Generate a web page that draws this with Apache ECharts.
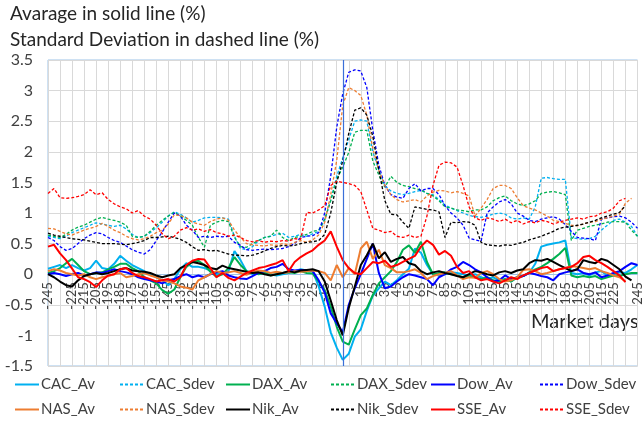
<!DOCTYPE html>
<html>
<head>
<meta charset="utf-8">
<script src="https://cdn.jsdelivr.net/npm/echarts@6/dist/echarts.min.js"></script>
<style>
  html, body { margin: 0; padding: 0; background: #fff; }
  #chart { width: 644px; height: 423px; }
</style>
</head>
<body>
<div id="chart"></div>
<script>
// Market days around the event (every 5th day)
const days = [
  -245,-240,-235,-230,-225,-220,-215,-210,-205,-200,
  -195,-190,-185,-180,-175,-170,-165,-160,-155,-150,
  -145,-140,-135,-130,-125,-120,-115,-110,-105,-100,
  -95,-90,-85,-80,-75,-70,-65,-60,-55,-50,
  -45,-40,-35,-30,-25,-20,-15,-10,-5,0,
  5,10,15,20,25,30,35,40,45,50,
  55,60,65,70,75,80,85,90,95,100,
  105,110,115,120,125,130,135,140,145,150,
  155,160,165,170,175,180,185,190,195,200,
  205,210,215,220,225,230,235,240,245
];

// Average (%)
const cacAv = [
  0.09,0.12,0.15,0.10,0.15,0.10,0.06,0.10,0.22,0.10,
  0.08,0.17,0.30,0.22,0.15,0.10,0.05,0.00,-0.05,-0.10,
  -0.18,-0.08,0.08,0.18,0.12,0.12,0.10,0.06,0.00,0.02,
  0.05,0.38,0.23,0.05,0.00,0.02,0.03,0.00,-0.02,0.00,
  0.02,0.05,0.08,0.06,0.05,-0.20,-0.53,-0.95,-1.20,-1.40,
  -1.30,-1.02,-0.90,-0.60,-0.35,-0.23,-0.12,-0.18,-0.10,0.00,
  0.09,0.42,0.35,0.15,0.00,-0.02,0.00,0.03,0.02,0.00,
  -0.02,0.00,-0.05,-0.08,-0.05,-0.10,-0.08,-0.12,-0.05,-0.03,
  0.02,0.17,0.45,0.48,0.50,0.52,0.55,0.02,0.00,0.02,
  -0.02,0.03,0.05,-0.02,0.00,0.03,0.02,0.08,0.15
];
const daxAv = [
  0.02,0.05,0.10,0.18,0.25,0.15,0.05,0.00,0.02,0.03,
  0.08,0.12,0.17,0.17,0.10,0.05,-0.05,-0.10,-0.15,-0.26,
  -0.32,-0.25,-0.05,0.12,0.20,0.22,0.15,0.04,-0.04,0.00,
  0.10,0.28,0.15,0.05,0.03,0.00,0.02,-0.02,0.00,0.02,
  0.03,0.02,0.05,0.02,0.01,-0.12,-0.26,-0.53,-0.86,-1.10,
  -1.15,-0.90,-0.67,-0.56,-0.34,-0.15,-0.05,0.05,0.20,0.40,
  0.47,0.35,0.53,0.20,0.00,0.02,0.03,0.00,-0.02,-0.05,
  -0.03,-0.05,-0.08,-0.05,-0.10,-0.12,-0.08,-0.12,-0.05,-0.03,
  0.03,0.08,0.12,0.18,0.25,0.33,0.43,-0.02,-0.05,-0.03,
  -0.05,-0.03,-0.08,-0.05,-0.02,-0.03,0.00,0.02,0.02
];
const dowAv = [
  0.00,0.02,0.00,-0.03,0.00,0.02,-0.02,0.00,0.03,0.02,
  0.05,0.08,0.05,0.03,0.00,-0.05,-0.08,-0.10,-0.12,-0.15,
  -0.10,-0.08,-0.03,0.00,-0.05,-0.02,-0.05,0.00,0.03,0.05,
  -0.02,-0.05,-0.07,-0.08,-0.03,0.02,0.05,0.10,0.12,0.17,
  0.08,0.06,0.07,0.07,0.05,-0.10,-0.30,-0.64,-0.80,-0.95,
  -0.50,-0.23,0.00,0.25,0.50,0.02,-0.23,-0.20,-0.12,-0.05,
  0.00,-0.02,-0.05,-0.08,-0.18,-0.05,0.00,0.08,0.12,0.20,
  0.15,0.08,0.03,-0.05,-0.12,-0.10,-0.02,-0.08,-0.05,-0.03,
  0.02,0.00,-0.03,-0.05,-0.10,0.00,0.03,0.05,0.08,0.02,
  0.00,0.03,-0.05,-0.02,0.02,0.05,0.12,0.18,0.15
];
const nasAv = [
  0.05,0.08,0.06,0.02,0.00,-0.02,0.00,-0.05,-0.08,-0.05,
  -0.03,0.00,0.02,-0.05,-0.03,0.00,0.02,-0.02,-0.05,-0.10,
  -0.12,-0.15,-0.20,-0.22,-0.25,-0.10,-0.05,0.00,0.05,0.02,
  0.03,0.05,0.02,-0.01,0.03,0.06,0.05,0.02,0.04,0.02,
  0.03,0.05,0.04,0.05,0.06,0.05,0.02,-0.10,0.15,-0.05,
  0.10,0.00,0.42,0.53,0.25,0.40,0.15,0.10,0.03,0.03,
  0.05,0.08,0.02,-0.08,-0.03,0.00,0.02,0.05,-0.02,-0.08,
  -0.05,-0.06,0.02,0.05,0.00,-0.08,-0.12,-0.10,-0.05,0.07,
  0.08,0.05,0.00,0.02,0.05,0.08,0.10,0.13,0.12,0.10,
  0.08,0.10,0.05,0.02,-0.02,-0.05,-0.12,null,null
];
const nikAv = [
  0.00,-0.05,-0.12,-0.18,-0.20,-0.10,-0.03,0.00,0.02,0.00,
  0.02,0.05,0.08,0.10,0.06,0.05,0.04,0.02,-0.02,-0.05,
  -0.02,0.00,0.10,0.15,0.20,0.18,0.15,0.10,0.08,0.14,
  0.10,0.08,0.06,0.04,0.02,0.03,0.00,-0.02,0.00,0.02,
  0.05,0.03,0.06,0.07,0.08,0.05,-0.12,-0.43,-0.75,-1.00,
  -0.55,-0.20,0.15,0.31,0.50,0.26,0.36,0.20,0.25,0.28,
  0.18,0.15,0.05,0.00,0.03,0.05,0.02,0.00,-0.03,-0.05,
  0.00,0.05,0.03,0.00,-0.02,0.03,0.05,0.02,0.06,0.08,
  0.18,0.23,0.22,0.25,0.20,0.15,0.10,0.05,0.08,0.23,
  0.20,0.18,0.25,0.22,0.15,0.08,-0.04,-0.10,null
];
const sseAv = [
  0.45,0.48,0.34,0.23,0.09,-0.05,-0.08,-0.13,-0.21,-0.10,
  -0.02,0.00,0.08,0.10,0.02,-0.03,-0.05,-0.08,-0.12,-0.10,
  -0.08,-0.12,-0.05,0.15,0.22,0.25,0.24,0.10,-0.05,0.02,
  -0.06,-0.10,-0.04,0.02,0.06,0.10,0.12,0.15,0.18,0.23,
  0.05,0.20,0.28,0.34,0.39,0.48,0.55,0.70,0.45,0.23,
  0.10,0.02,0.00,0.10,0.20,0.18,0.22,0.12,0.15,0.20,
  0.25,0.30,0.45,0.55,0.48,0.32,0.38,0.30,0.12,0.02,
  0.05,-0.05,-0.10,-0.08,-0.12,-0.15,-0.10,-0.05,-0.08,-0.02,
  0.02,0.06,0.10,0.12,0.05,0.08,0.10,0.12,0.18,0.28,
  0.30,0.23,0.18,0.12,0.05,-0.02,-0.13,null,null
];

// Standard deviation (%)
const cacSdev = [
  0.62,0.60,0.58,0.62,0.68,0.72,0.76,0.80,0.84,0.82,
  0.80,0.78,0.80,0.74,0.65,0.60,0.62,0.68,0.76,0.85,
  0.95,1.02,0.98,0.92,0.85,0.88,0.92,0.93,0.93,0.92,
  0.90,0.62,0.42,0.40,0.45,0.55,0.60,0.62,0.65,0.67,
  0.60,0.62,0.65,0.62,0.66,0.70,0.88,1.21,1.60,1.90,
  2.20,2.50,2.52,2.50,2.00,1.70,1.45,1.36,1.32,1.30,
  1.32,1.35,1.37,1.32,1.30,1.22,1.13,1.08,1.04,1.00,
  0.96,0.94,0.93,0.95,0.98,1.00,0.98,0.92,0.90,0.92,
  0.90,1.10,1.57,1.58,1.56,1.55,1.55,0.60,0.58,0.57,
  0.58,0.62,0.72,0.80,0.88,0.90,0.85,0.78,0.62
];
const daxSdev = [
  0.64,0.62,0.60,0.65,0.72,0.77,0.80,0.85,0.90,0.93,
  0.90,0.88,0.85,0.80,0.62,0.60,0.62,0.70,0.80,0.88,
  0.95,1.01,0.95,0.88,0.80,0.60,0.44,0.80,0.85,0.88,
  0.86,0.60,0.45,0.44,0.50,0.55,0.60,0.62,0.72,0.60,
  0.55,0.60,0.62,0.65,0.70,0.72,0.90,1.20,1.55,1.75,
  1.99,2.32,2.35,2.35,1.85,1.62,1.42,1.60,1.50,1.45,
  1.43,1.40,1.38,1.32,1.28,1.20,1.10,1.08,1.05,1.04,
  1.02,1.05,1.05,1.10,1.20,1.25,1.28,1.20,1.15,1.12,
  1.15,1.20,1.32,1.34,1.35,1.33,1.30,0.55,0.72,0.75,
  0.78,0.80,0.82,0.85,0.86,0.86,0.85,0.72,0.62
];
const dowSdev = [
  0.60,0.55,0.45,0.39,0.42,0.50,0.58,0.64,0.68,0.66,
  0.60,0.55,0.52,0.46,0.40,0.36,0.33,0.40,0.55,0.69,
  0.85,1.00,0.95,0.80,0.72,0.60,0.62,0.60,0.62,0.61,
  0.62,0.52,0.47,0.40,0.39,0.40,0.41,0.40,0.41,0.42,
  0.45,0.50,0.60,0.62,0.63,0.68,1.00,1.60,2.40,2.95,
  3.30,3.34,3.32,3.05,2.35,1.78,1.45,1.30,1.26,1.24,
  1.40,1.48,1.36,1.40,1.40,1.30,1.12,1.00,0.92,0.80,
  0.59,0.56,0.54,1.00,1.10,1.18,1.22,1.15,1.00,0.95,
  0.88,0.86,0.90,0.92,0.94,0.90,0.81,0.70,0.60,0.59,
  0.58,0.55,0.90,0.92,0.94,0.95,0.92,0.85,0.75
];
const nasSdev = [
  0.75,0.74,0.70,0.66,0.64,0.68,0.72,0.75,0.78,0.83,
  0.78,0.72,0.68,0.62,0.58,0.56,0.58,0.62,0.68,0.72,
  0.82,0.97,0.96,0.92,0.85,0.82,0.80,0.86,0.90,0.92,
  0.88,0.72,0.60,0.50,0.48,0.47,0.46,0.48,0.47,0.50,
  0.48,0.52,0.55,0.52,0.56,0.64,0.85,1.30,1.86,2.76,
  3.05,3.00,2.92,2.60,2.05,1.70,1.45,1.30,1.22,1.18,
  1.20,1.22,1.18,1.28,1.34,1.37,1.36,1.33,1.35,1.32,
  1.28,0.95,1.08,1.22,1.40,1.45,1.45,1.40,1.25,1.12,
  1.08,1.05,1.00,0.95,0.88,0.86,0.83,0.80,0.79,0.82,
  0.85,0.86,0.90,0.92,0.95,0.98,1.16,1.24,null
];
const nikSdev = [
  0.67,0.64,0.62,0.60,0.58,0.57,0.56,0.54,0.52,0.50,
  0.50,0.50,0.49,0.48,0.50,0.52,0.55,0.60,0.60,0.61,
  0.62,0.60,0.57,0.52,0.45,0.39,0.40,0.38,0.39,0.36,
  0.33,0.31,0.31,0.30,0.31,0.34,0.38,0.42,0.45,0.47,
  0.46,0.47,0.50,0.52,0.53,0.55,0.65,1.00,1.50,1.85,
  2.30,2.68,2.72,2.60,2.25,1.70,1.20,0.98,0.97,0.85,
  0.75,1.10,1.08,1.06,1.05,1.02,0.60,0.85,0.84,0.86,
  0.85,0.80,0.52,0.48,0.47,0.46,0.48,0.47,0.50,0.52,
  0.56,0.59,0.62,0.66,0.70,0.75,0.77,0.78,0.80,0.82,
  0.85,0.88,0.92,0.95,0.98,1.01,1.12,null,null
];
const sseSdev = [
  1.32,1.40,1.25,1.24,1.25,1.27,1.30,1.38,1.30,1.33,
  1.22,1.15,1.10,1.07,1.00,1.04,0.95,0.90,0.80,0.66,
  0.58,0.62,0.72,0.76,0.72,0.74,0.70,0.73,0.68,0.66,
  0.62,0.64,0.60,0.55,0.53,0.55,0.52,0.54,0.53,0.55,
  0.54,0.58,0.57,1.01,1.00,1.05,1.12,1.45,1.52,1.50,
  1.48,1.45,1.35,1.05,0.75,0.72,0.68,0.70,0.62,0.60,
  0.64,0.60,0.62,0.95,1.45,1.78,1.83,1.82,1.75,1.45,
  1.10,0.92,0.88,0.92,0.90,0.86,0.90,0.84,0.88,0.82,
  0.86,0.84,0.88,0.86,0.82,0.85,0.88,0.90,0.92,0.90,
  0.94,0.95,1.00,1.02,1.08,1.20,1.24,null,null
];

const yTicks = { min: -1.5, max: 3.5, step: 0.5 };
const eventDay = 0;

const FONT = 'Lato, "Noto Sans", sans-serif';
const TXT = '#404040';

const GRID = { left: 48, right: 1, top: 60, bottom: 57 };
const plotHeight = 423 - GRID.top - GRID.bottom;
// the category axis crosses the value axis at 0
const zeroOffset = -plotHeight * (0 - yTicks.min) / (yTicks.max - yTicks.min);

const colors = {
  CAC: '#00b0f0', DAX: '#00b050', Dow: '#0000ff',
  NAS: '#ed7d31', Nik: '#000000', SSE: '#ff0000'
};

function avgSeries(name, key, data) {
  return {
    name: name, type: 'line', data: data, symbol: 'none', smooth: false,
    lineStyle: { color: colors[key], width: 2 }, itemStyle: { color: colors[key] },
    emphasis: { disabled: true }, animation: false
  };
}
function sdevSeries(name, key, data) {
  return {
    name: name, type: 'line', data: data, symbol: 'none', smooth: false,
    lineStyle: { color: colors[key], width: 1.3, type: [3, 2] }, itemStyle: { color: colors[key] },
    emphasis: { disabled: true }, animation: false
  };
}

const series = [
  avgSeries('CAC_Av', 'CAC', cacAv),
  sdevSeries('CAC_Sdev', 'CAC', cacSdev),
  avgSeries('DAX_Av', 'DAX', daxAv),
  sdevSeries('DAX_Sdev', 'DAX', daxSdev),
  avgSeries('Dow_Av', 'Dow', dowAv),
  sdevSeries('Dow_Sdev', 'Dow', dowSdev),
  avgSeries('NAS_Av', 'NAS', nasAv),
  sdevSeries('NAS_Sdev', 'NAS', nasSdev),
  avgSeries('Nik_Av', 'Nik', nikAv),
  sdevSeries('Nik_Sdev', 'Nik', nikSdev),
  avgSeries('SSE_Av', 'SSE', sseAv),
  sdevSeries('SSE_Sdev', 'SSE', sseSdev)
];

// event-day marker
series[0].markLine = {
  silent: true, symbol: 'none', animation: false,
  label: { show: false },
  lineStyle: { color: '#3a6fd8', width: 1.2, type: 'solid', opacity: 1 },
  data: [{ xAxis: String(eventDay) }]
};

const legendCols = [
  { left: 14, data: ['CAC_Av', 'NAS_Av'] },
  { left: 119, data: ['CAC_Sdev', 'NAS_Sdev'] },
  { left: 225, data: ['DAX_Av', 'Nik_Av'] },
  { left: 330, data: ['DAX_Sdev', 'Nik_Sdev'] },
  { left: 430, data: ['Dow_Av', 'SSE_Av'] },
  { left: 539, data: ['Dow_Sdev', 'SSE_Sdev'] }
];

const chart = echarts.init(document.getElementById('chart'), null, { renderer: 'canvas' });
chart.setOption({
  animation: false,
  backgroundColor: '#ffffff',
  textStyle: { fontFamily: FONT },
  grid: {
    left: GRID.left, right: GRID.right, top: GRID.top, bottom: GRID.bottom,
    show: true, borderColor: '#9dc3e6', borderWidth: 1, backgroundColor: 'transparent'
  },
  xAxis: {
    type: 'category',
    data: days.map(String),
    boundaryGap: false,
    offset: zeroOffset,
    axisLine: { onZero: false, lineStyle: { color: '#9dc3e6', width: 1 } },
    axisTick: { show: false },
    axisLabel: {
      interval: 1, rotate: 90, margin: 8, hideOverlap: false,
      showMinLabel: true, showMaxLabel: true,
      color: TXT, fontSize: 13, fontFamily: FONT
    },
    splitLine: { show: true, interval: 1, lineStyle: { color: '#d9d9d9', width: 1 } }
  },
  yAxis: {
    type: 'value',
    min: yTicks.min, max: yTicks.max, interval: yTicks.step,
    axisLine: { show: false },
    axisTick: { show: false },
    axisLabel: { color: TXT, fontSize: 16, fontFamily: FONT, margin: 15 },
    splitLine: { show: true, lineStyle: { color: '#d9d9d9', width: 1 } }
  },
  legend: legendCols.map(function (c) {
    return {
      orient: 'vertical', left: c.left, top: 377, padding: 0,
      itemWidth: 24, itemHeight: 12, itemGap: 10,
      data: c.data, selectedMode: false,
      itemStyle: { opacity: 0 },
      textStyle: { color: TXT, fontSize: 15, fontFamily: FONT, padding: [0, 0, 0, -3] }
    };
  }),
  graphic: [
    { type: 'text', left: 10, top: 4, silent: true,
      style: { text: 'Avarage in solid line (%)', font: '19px ' + FONT, fill: '#262626' } },
    { type: 'text', left: 10, top: 30, silent: true,
      style: { text: 'Standard Deviation in dashed line (%)', font: '19px ' + FONT, fill: '#262626' } },
    { type: 'text', left: 531, top: 312, silent: true,
      style: { text: 'Market days', font: '20px ' + FONT, fill: '#262626' } }
  ],
  series: series
});
</script>
</body>
</html>
